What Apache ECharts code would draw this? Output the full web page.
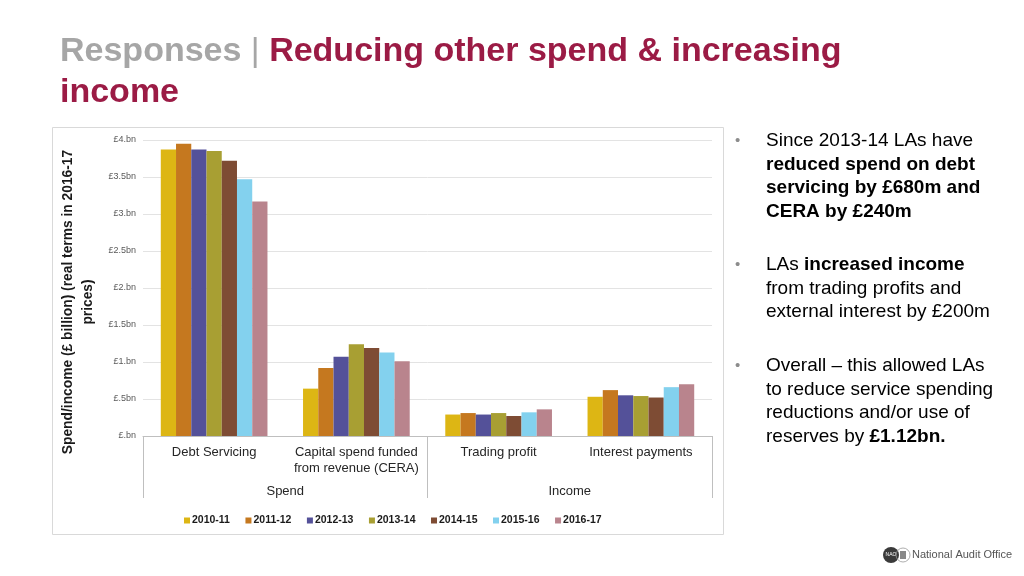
<!DOCTYPE html>
<html>
<head>
<meta charset="utf-8">
<script src="https://cdn.jsdelivr.net/npm/echarts@6/dist/echarts.min.js"></script>
<style>
html,body{margin:0;padding:0;background:#fff;}
#c{width:1024px;height:576px;}
</style>
</head>
<body>
<div id="c"></div>
<script>
// ---- data ----
var categories = ['Debt Servicing', 'Capital spend funded\nfrom revenue (CERA)', 'Trading profit', 'Interest payments'];
var groups = ['Spend', 'Income'];
var years = ['2010-11', '2011-12', '2012-13', '2013-14', '2014-15', '2015-16', '2016-17'];
var v2010_11 = [3.87, 0.64, 0.29, 0.53];
var v2011_12 = [3.95, 0.92, 0.31, 0.62];
var v2012_13 = [3.87, 1.07, 0.29, 0.55];
var v2013_14 = [3.85, 1.24, 0.31, 0.54];
var v2014_15 = [3.72, 1.19, 0.27, 0.52];
var v2015_16 = [3.47, 1.13, 0.32, 0.66];
var v2016_17 = [3.17, 1.01, 0.36, 0.70];
var yTickLabels = ['£.bn', '£.5bn', '£1.bn', '£1.5bn', '£2.bn', '£2.5bn', '£3.bn', '£3.5bn', '£4.bn'];
var yAxisTitle = 'Spend/income (£ billion) (real terms in 2016-17\nprices)';

var seriesValues = [v2010_11, v2011_12, v2012_13, v2013_14, v2014_15, v2015_16, v2016_17];
var colors = ['#DDB614', '#C5781F', '#545199', '#A89F33', '#7E4C34', '#83D1EE', '#B9848D'];

var chart = echarts.init(document.getElementById('c'), null, {renderer: 'canvas'});
var FONT = 'Liberation Sans, Arial, Helvetica, sans-serif';

var series = years.map(function (y, i) {
  return {
    name: y,
    type: 'bar',
    xAxisIndex: 0,
    data: seriesValues[i],
    barGap: '0%',
    barCategoryGap: '25%',
    itemStyle: {color: colors[i]},
    emphasis: {disabled: true}
  };
});

var bullet = {fontSize: 15, fill: '#8c8c8c', fontFamily: FONT};
var rich = {
  n: {fontSize: 19, lineHeight: 23.4, fontFamily: FONT, color: '#1a1a1a'},
  b: {fontSize: 19, lineHeight: 23.4, fontFamily: FONT, color: '#1a1a1a', fontWeight: 'bold'}
};

var option = {
  backgroundColor: '#ffffff',
  animation: false,
  textStyle: {fontFamily: FONT},
  grid: {left: 143, right: 312, top: 140, bottom: 140, containLabel: false},
  legend: {
    data: years,
    left: 179,
    top: 510,
    itemWidth: 6,
    itemHeight: 6,
    itemGap: 15.5,
    icon: 'rect',
    textStyle: {fontSize: 10.5, fontWeight: 'bold', color: '#1a1a1a', fontFamily: FONT, padding: [0, 0, 0, -3]}
  },
  xAxis: [
    {
      type: 'category',
      data: categories,
      position: 'bottom',
      axisLine: {show: true, lineStyle: {color: '#bfbfbf', width: 1}},
      axisTick: {show: false},
      axisLabel: {interval: 0, margin: 8, fontSize: 13, lineHeight: 16, color: '#262626', fontFamily: FONT}
    },
    {
      type: 'category',
      data: groups,
      position: 'bottom',
      axisLine: {show: false},
      axisTick: {show: true, length: 62, interval: 0, lineStyle: {color: '#bfbfbf', width: 1}},
      axisLabel: {interval: 0, margin: 49, fontSize: 13, color: '#262626', fontFamily: FONT},
      splitLine: {show: false}
    }
  ],
  yAxis: {
    type: 'value',
    min: 0,
    max: 4,
    interval: 0.5,
    axisLine: {show: false},
    axisTick: {show: false},
    splitLine: {show: true, lineStyle: {color: '#e3e3e3', width: 1}},
    axisLabel: {
      margin: 7,
      fontSize: 9,
      color: '#595959',
      fontFamily: FONT,
      formatter: function (v) { return yTickLabels[Math.round(v / 0.5)]; }
    }
  },
  series: series,
  graphic: [
    // chart box border
    {type: 'rect', z: -10, shape: {x: 52.5, y: 127.5, width: 671, height: 407}, style: {fill: 'none', stroke: '#d9d9d9', lineWidth: 1}},
    // title
    {type: 'text', left: 60, top: 35, style: {
      text: '{g|Responses }{s||}{r| Reducing other spend & increasing}\n{r|income}',
      rich: {
        g: {fontSize: 34, fontWeight: 'bold', fill: '#a6a6a6', fontFamily: FONT, lineHeight: 41},
        s: {fontSize: 34, fill: '#a6a6a6', fontFamily: FONT, lineHeight: 41},
        r: {fontSize: 34, fontWeight: 'bold', fill: '#9B1B45', fontFamily: FONT, lineHeight: 41}
      }
    }},
    // y axis title
    {type: 'text', x: 78, y: 302, rotation: Math.PI / 2, style: {
      text: yAxisTitle, fontSize: 13.8, fontWeight: 'bold', fill: '#1a1a1a', fontFamily: FONT,
      align: 'center', verticalAlign: 'middle', lineHeight: 20
    }},
    // bullets
    {type: 'text', x: 735, y: 133, style: Object.assign({text: '•'}, bullet)},
    {type: 'text', x: 735, y: 257, style: Object.assign({text: '•'}, bullet)},
    {type: 'text', x: 735, y: 358, style: Object.assign({text: '•'}, bullet)},
    {type: 'text', x: 766, y: 129.5, style: {
      text: '{n|Since 2013-14 LAs have}\n{b|reduced spend on debt}\n{b|servicing by £680m and}\n{b|CERA by £240m}', rich: rich
    }},
    {type: 'text', x: 766, y: 253.5, style: {
      text: '{n|LAs }{b|increased income}\n{n|from trading profits and}\n{n|external interest by £200m}', rich: rich
    }},
    {type: 'text', x: 766, y: 354.5, style: {
      text: '{n|Overall – this allowed LAs}\n{n|to reduce service spending}\n{n|reductions and/or use of}\n{n|reserves by }{b|£1.12bn.}', rich: rich
    }},
    // NAO logo
    {type: 'circle', shape: {cx: 891, cy: 555, r: 8}, style: {fill: '#3a3a3a'}},
    {type: 'text', x: 891, y: 555, style: {text: 'NAO', fontSize: 5, fill: '#fff', align: 'center', verticalAlign: 'middle', fontFamily: FONT}},
    {type: 'circle', shape: {cx: 903, cy: 555, r: 7}, style: {fill: 'none', stroke: '#999', lineWidth: 0.8}},
    {type: 'rect', shape: {x: 900, y: 551, width: 6, height: 8}, style: {fill: '#888'}},
    {type: 'text', x: 912, y: 555, style: {text: 'National Audit Office', fontSize: 11, fill: '#555', verticalAlign: 'middle', fontFamily: FONT}}
  ]
};
chart.setOption(option);
</script>
</body>
</html>
